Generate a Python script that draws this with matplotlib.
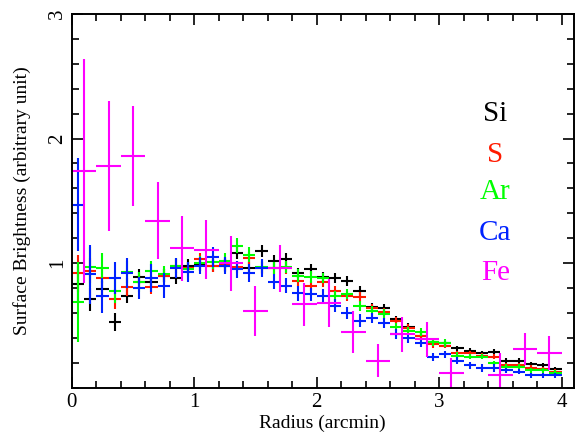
import numpy as np
import matplotlib
matplotlib.use('Agg')
import matplotlib.pyplot as plt
from matplotlib.ticker import MultipleLocator

plt.rcParams['font.family'] = ['Liberation Serif', 'DejaVu Serif']

# radial bins (arcmin)
r_fine = np.round(np.arange(0.05, 4.0, 0.1), 2)   # 40 bins, width 0.1
r_fe = np.round(np.arange(0.1, 4.0, 0.2), 2)      # 20 bins, width 0.2

si = [0.83, 0.71, 0.79, 0.53, 0.74, 0.89, 0.85, 0.90, 0.88, 0.98,
      0.99, 0.98, 0.98, 1.08, 0.96, 1.10, 1.02, 1.03, 0.92, 0.95,
      0.89, 0.88, 0.86, 0.78, 0.65, 0.64, 0.55, 0.49, 0.42, 0.37,
      0.36, 0.32, 0.30, 0.28, 0.29, 0.22, 0.22, 0.19, 0.18, 0.15]
si_err = [0.15, 0.09, 0.07, 0.07, 0.06, 0.06, 0.05, 0.05, 0.05, 0.05,
          0.05, 0.05, 0.05, 0.05, 0.05, 0.05, 0.05, 0.05, 0.04, 0.04,
          0.04, 0.04, 0.04, 0.04, 0.03, 0.03, 0.03, 0.03, 0.03, 0.03,
          0.02, 0.02, 0.02, 0.02, 0.02, 0.02, 0.02, 0.02, 0.02, 0.02]

s = [0.92, 0.94, 0.88, 0.71, 0.81, 0.85, 0.81, 0.90, 0.98, 0.96,
     1.03, 0.98, 0.99, 0.97, 1.04, 0.96, 0.96, 0.96, 0.86, 0.82,
     0.85, 0.78, 0.74, 0.73, 0.64, 0.61, 0.54, 0.48, 0.42, 0.35,
     0.34, 0.28, 0.28, 0.26, 0.25, 0.18, 0.18, 0.16, 0.15, 0.13]
s_err = [0.15, 0.10, 0.08, 0.08, 0.07, 0.06, 0.06, 0.05, 0.05, 0.05,
         0.05, 0.05, 0.05, 0.05, 0.05, 0.05, 0.05, 0.05, 0.04, 0.04,
         0.04, 0.04, 0.04, 0.04, 0.03, 0.03, 0.03, 0.03, 0.03, 0.03,
         0.02, 0.02, 0.02, 0.02, 0.02, 0.02, 0.02, 0.02, 0.02, 0.02]

ar = [0.69, 0.97, 0.96, 0.78, 0.93, 0.85, 0.94, 0.91, 0.98, 0.95,
      1.00, 1.01, 1.02, 1.14, 1.07, 0.97, 0.96, 0.97, 0.90, 0.89,
      0.88, 0.74, 0.75, 0.66, 0.62, 0.59, 0.49, 0.46, 0.45, 0.37,
      0.36, 0.26, 0.25, 0.25, 0.20, 0.17, 0.17, 0.14, 0.14, 0.12]
ar_err = [0.32, 0.16, 0.12, 0.10, 0.09, 0.08, 0.08, 0.07, 0.06, 0.06,
          0.06, 0.06, 0.06, 0.06, 0.06, 0.05, 0.05, 0.05, 0.05, 0.05,
          0.04, 0.04, 0.04, 0.04, 0.04, 0.04, 0.03, 0.03, 0.03, 0.03,
          0.03, 0.03, 0.02, 0.02, 0.02, 0.02, 0.02, 0.02, 0.02, 0.02]

ca = [1.47, 0.91, 0.74, 0.88, 0.92, 0.80, 0.88, 0.82, 0.96, 0.93,
      0.98, 1.05, 0.98, 0.95, 0.92, 0.96, 0.85, 0.82, 0.76, 0.75,
      0.74, 0.66, 0.60, 0.54, 0.56, 0.52, 0.43, 0.40, 0.36, 0.25,
      0.27, 0.22, 0.18, 0.16, 0.16, 0.14, 0.13, 0.10, 0.10, 0.10]
ca_err = [0.37, 0.24, 0.14, 0.13, 0.12, 0.09, 0.11, 0.10, 0.08, 0.08,
          0.07, 0.08, 0.07, 0.07, 0.07, 0.07, 0.06, 0.06, 0.06, 0.05,
          0.05, 0.05, 0.05, 0.05, 0.04, 0.04, 0.04, 0.04, 0.03, 0.03,
          0.03, 0.03, 0.03, 0.03, 0.03, 0.02, 0.02, 0.02, 0.02, 0.02]

fe = [1.74, 1.78, 1.86, 1.34, 1.12, 1.11, 1.00, 0.62, 0.96, 0.67,
      0.68, 0.45, 0.22, 0.43, 0.39, 0.12, np.nan, 0.10, 0.31, 0.28]
fe_err = [0.90, 0.52, 0.40, 0.31, 0.26, 0.24, 0.22, 0.20, 0.19, 0.17,
          0.19, 0.17, 0.13, 0.14, 0.14, 0.12, np.nan, 0.18, 0.13, 0.14]

series = [
    ('Si', r_fine, si, si_err, 0.05, 'black'),
    ('S', r_fine, s, s_err, 0.05, '#ff1a00'),
    ('Ar', r_fine, ar, ar_err, 0.05, '#00ff00'),
    ('Ca', r_fine, ca, ca_err, 0.05, '#0022ff'),
    ('Fe', r_fe, fe, fe_err, 0.1, '#ff00ff'),
]

fig = plt.figure(figsize=(5.79, 4.32), dpi=100)
ax = fig.add_axes([0.124, 0.102, 0.867, 0.866])

for name, x, y, e, hw, col in series:
    ax.errorbar(x, y, xerr=hw, yerr=e, fmt='none', ecolor=col,
                elinewidth=1.5, capsize=0)

# element labels
label_y = [2.2, 1.87, 1.57, 1.24, 0.92]
for (name, x, y, e, hw, col), ly in zip(series, label_y):
    ax.text(3.46, ly, name, color=col, fontsize=21, ha='center', va='center')

ax.set_xlim(0, 4.1)
ax.set_ylim(0, 3)
ax.set_xticks([0, 1, 2, 3, 4])
ax.set_yticks([1, 2, 3])
ax.xaxis.set_minor_locator(MultipleLocator(0.2))
ax.yaxis.set_minor_locator(MultipleLocator(0.2))
ax.tick_params(which='both', direction='in', top=True, right=True,
               width=1.2, labelsize=15)
ax.tick_params(which='major', length=8)
ax.tick_params(which='minor', length=5)
ax.tick_params(axis='y', labelrotation=90)
for lab in ax.get_yticklabels():
    lab.set_va('center')
for sp in ax.spines.values():
    sp.set_linewidth(1.4)

ax.set_xlabel('Radius (arcmin)', fontsize=14, labelpad=2)
ax.set_ylabel('Surface Brightness (arbitrary unit)', fontsize=14, labelpad=12)

fig.savefig('out.png', dpi=100)
